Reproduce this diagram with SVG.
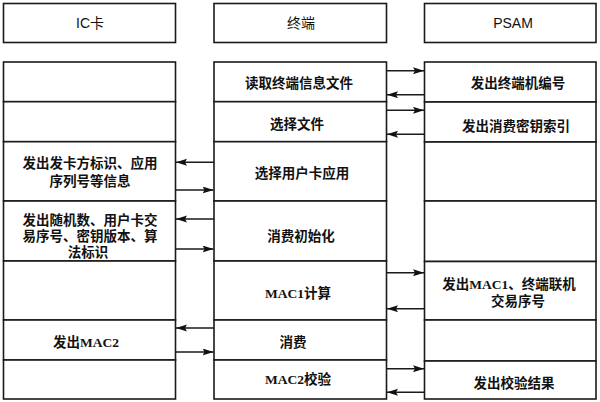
<svg xmlns="http://www.w3.org/2000/svg" width="600" height="402" viewBox="0 0 600 402">
<defs>
<style>
.box{fill:#fff;stroke:#1a1a1a;stroke-width:1.6}
.hd{font-family:"Liberation Sans","Noto Sans CJK SC",sans-serif;font-size:14px;fill:#111;text-anchor:middle}
.tx{font-family:"Liberation Serif","Noto Sans CJK SC",serif;font-size:13.5px;font-weight:bold;fill:#111;text-anchor:middle}
.cn{fill:none;stroke:#1a1a1a;stroke-width:1.4;marker-end:url(#ah)}
</style>
<marker id="ah" markerUnits="userSpaceOnUse" markerWidth="12" markerHeight="8" refX="11" refY="3.5" orient="auto">
<path d="M0,0 L11,3.5 L0,7 L2,3.5 z" fill="#111"/>
</marker>
</defs>
<rect width="600" height="402" fill="#fff"/>
<g id="hdr-ic"><rect class="box" x="3.5" y="3.5" width="172" height="39"/><text class="hd" x="90" y="28">IC卡</text></g>
<g id="hdr-term"><rect class="box" x="214" y="3.5" width="172.5" height="39"/><text class="hd" x="301" y="28">终端</text></g>
<g id="hdr-psam"><rect class="box" x="424.5" y="3.5" width="171.5" height="39"/><text class="hd" x="513" y="28">PSAM</text></g>

<g id="ic1"><rect class="box" x="3.5" y="62" width="172" height="39.7"/></g>
<g id="ic2"><rect class="box" x="3.5" y="101.7" width="172" height="40"/></g>
<g id="ic3"><rect class="box" x="3.5" y="141.7" width="172" height="59.3"/><text class="tx" x="90" y="168">发出发卡方标识、应用</text><text class="tx" x="90" y="186">序列号等信息</text></g>
<g id="ic4"><rect class="box" x="3.5" y="201" width="172" height="60"/><text class="tx" x="90" y="225">发出随机数、用户卡交</text><text class="tx" x="90" y="241">易序号、密钥版本、算</text><text class="tx" x="88" y="257">法标识</text></g>
<g id="ic5"><rect class="box" x="3.5" y="261" width="172" height="59"/></g>
<g id="ic6"><rect class="box" x="3.5" y="320" width="172" height="40"/><text class="tx" x="86" y="347">发出MAC2</text></g>
<g id="ic7"><rect class="box" x="3.5" y="360" width="172" height="39"/></g>

<g id="t1"><rect class="box" x="214" y="62" width="172.5" height="39.7"/><text class="tx" x="299" y="88">读取终端信息文件</text></g>
<g id="t2"><rect class="box" x="214" y="101.7" width="172.5" height="40"/><text class="tx" x="297" y="129">选择文件</text></g>
<g id="t3"><rect class="box" x="214" y="141.7" width="172.5" height="59.3"/><text class="tx" x="302" y="177.5">选择用户卡应用</text></g>
<g id="t4"><rect class="box" x="214" y="201" width="172.5" height="60"/><text class="tx" x="301" y="241">消费初始化</text></g>
<g id="t5"><rect class="box" x="214" y="261" width="172.5" height="59"/><text class="tx" x="298" y="297.5">MAC1计算</text></g>
<g id="t6"><rect class="box" x="214" y="320" width="172.5" height="40"/><text class="tx" x="293" y="347">消费</text></g>
<g id="t7"><rect class="box" x="214" y="360" width="172.5" height="39"/><text class="tx" x="298" y="383.5">MAC2校验</text></g>

<g id="p1"><rect class="box" x="424.5" y="62" width="171.5" height="40"/><text class="tx" x="518" y="88">发出终端机编号</text></g>
<g id="p2"><rect class="box" x="424.5" y="102" width="171.5" height="40"/><text class="tx" x="516" y="131">发出消费密钥索引</text></g>
<g id="p3"><rect class="box" x="424.5" y="142" width="171.5" height="59"/></g>
<g id="p4"><rect class="box" x="424.5" y="201" width="171.5" height="60.5"/></g>
<g id="p5"><rect class="box" x="424.5" y="261.5" width="171.5" height="58.5"/><text class="tx" x="509" y="289">发出MAC1、终端联机</text><text class="tx" x="518" y="306">交易序号</text></g>
<g id="p6"><rect class="box" x="424.5" y="320" width="171.5" height="41"/></g>
<g id="p7"><rect class="box" x="424.5" y="361" width="171.5" height="38"/><text class="tx" x="514" y="387.5">发出校验结果</text></g>

<g id="connectors">
<line class="cn" x1="214" y1="162.3" x2="176" y2="162.3"/>
<line class="cn" x1="175.5" y1="190" x2="213.5" y2="190"/>
<line class="cn" x1="214" y1="219" x2="176" y2="219"/>
<line class="cn" x1="175.5" y1="249" x2="213.5" y2="249"/>
<line class="cn" x1="214" y1="328" x2="176" y2="328"/>
<line class="cn" x1="175.5" y1="352" x2="213.5" y2="352"/>
<line class="cn" x1="386.5" y1="70.7" x2="424" y2="70.7"/>
<line class="cn" x1="424.5" y1="94.7" x2="387" y2="94.7"/>
<line class="cn" x1="386.5" y1="110.3" x2="424" y2="110.3"/>
<line class="cn" x1="424.5" y1="134.3" x2="387" y2="134.3"/>
<line class="cn" x1="386.5" y1="272.7" x2="424" y2="272.7"/>
<line class="cn" x1="424.5" y1="308.7" x2="387" y2="308.7"/>
<line class="cn" x1="386.5" y1="368.7" x2="424" y2="368.7"/>
<line class="cn" x1="424.5" y1="392.3" x2="387" y2="392.3"/>
</g>
</svg>
